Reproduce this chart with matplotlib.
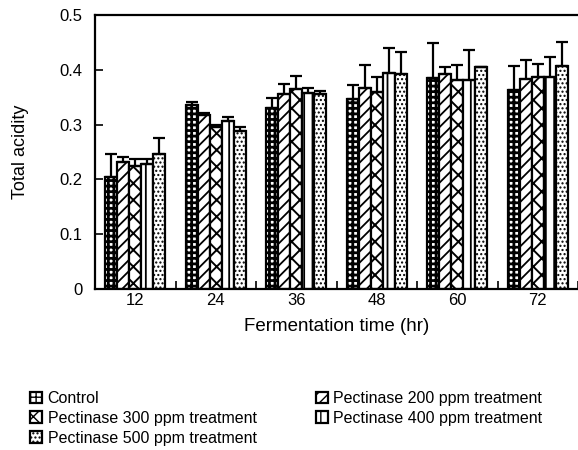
import matplotlib
matplotlib.use("Agg")
import matplotlib.pyplot as plt
import numpy as np

plt.rcParams['font.family'] = ['Liberation Sans', 'DejaVu Sans']

groups = ['12', '24', '36', '48', '60', '72']
series_names = ['Control', 'Pectinase 200 ppm treatment', 'Pectinase 300 ppm treatment',
                'Pectinase 400 ppm treatment', 'Pectinase 500 ppm treatment']
control = [0.205, 0.335, 0.330, 0.347, 0.385, 0.363]
control_err = [0.042, 0.006, 0.018, 0.025, 0.064, 0.044]
p200 = [0.232, 0.318, 0.355, 0.367, 0.392, 0.383]
p200_err = [0.009, 0.003, 0.020, 0.042, 0.013, 0.035]
p300 = [0.224, 0.295, 0.365, 0.360, 0.381, 0.387]
p300_err = [0.013, 0.005, 0.024, 0.027, 0.028, 0.023]
p400 = [0.229, 0.306, 0.358, 0.394, 0.381, 0.387]
p400_err = [0.008, 0.008, 0.008, 0.046, 0.056, 0.036]
p500 = [0.246, 0.288, 0.356, 0.392, 0.405, 0.407]
p500_err = [0.030, 0.007, 0.005, 0.041, 0.0, 0.044]

values = [control, p200, p300, p400, p500]
errors = [control_err, p200_err, p300_err, p400_err, p500_err]
hatches = ['+++', '///', 'xx', '||', '....']
hatch_lw = [2.0, 1.3, 1.4, 1.3, 1.0]

fig = plt.figure(figsize=(5.78, 4.5), dpi=100)
ax = fig.add_axes([95/578, 1-289/450, 1-95/578, (289-15)/450])

x = np.arange(len(groups))
w = 0.15
handles = []
for i, (vals, errs) in enumerate(zip(values, errors)):
    pos = x + (i - 2) * w
    with plt.rc_context({'hatch.linewidth': hatch_lw[i]}):
        bars = ax.bar(pos, vals, width=w, color='white', edgecolor='black',
                      linewidth=1.6, hatch=hatches[i], label=series_names[i], zorder=2)
        for b in bars:
            if hasattr(b, 'set_hatch_linewidth'):
                b.set_hatch_linewidth(hatch_lw[i])
    ax.errorbar(pos, vals, yerr=[np.zeros(len(errs)), errs], fmt='none',
                ecolor='black', elinewidth=1.6, capsize=4.3, capthick=1.6, zorder=3)
    handles.append(bars)

ax.set_xlim(-0.5, 5.5)
ax.set_ylim(0, 0.5)
ax.set_yticks([0, 0.1, 0.2, 0.3, 0.4, 0.5])
ax.set_yticklabels(['0', '0.1', '0.2', '0.3', '0.4', '0.5'])
ax.set_xticks(x)
ax.set_xticklabels(groups)
ax.set_xticks(np.arange(-0.5, 6.0, 1.0), minor=True)
ax.tick_params(axis='x', which='major', length=0, pad=3, labelsize=12)
ax.tick_params(axis='x', which='minor', length=6, width=1.2, direction='in')
ax.tick_params(axis='y', length=6, width=1.2, direction='in', pad=9, labelsize=12)
for s in ['left', 'bottom', 'top']:
    ax.spines[s].set_linewidth(1.6)
ax.spines['right'].set_visible(False)

ax.set_xlabel('Fermentation time (hr)', fontsize=13.5, labelpad=7)
ax.set_ylabel('Total acidity', fontsize=13, labelpad=22)

order = [0, 2, 4, 1, 3]
with plt.rc_context({'hatch.linewidth': 1.0}):
    leg = fig.legend([handles[k] for k in order], [series_names[k] for k in order],
                     ncol=2, loc='upper left', bbox_to_anchor=(30/578, 1-391/450),
                     frameon=False, fontsize=11.5, handlelength=0.75, handleheight=0.75,
                     handletextpad=0.35, columnspacing=3.7, labelspacing=0.3,
                     borderaxespad=0, borderpad=0)

fig.savefig('out.png', dpi=100)
